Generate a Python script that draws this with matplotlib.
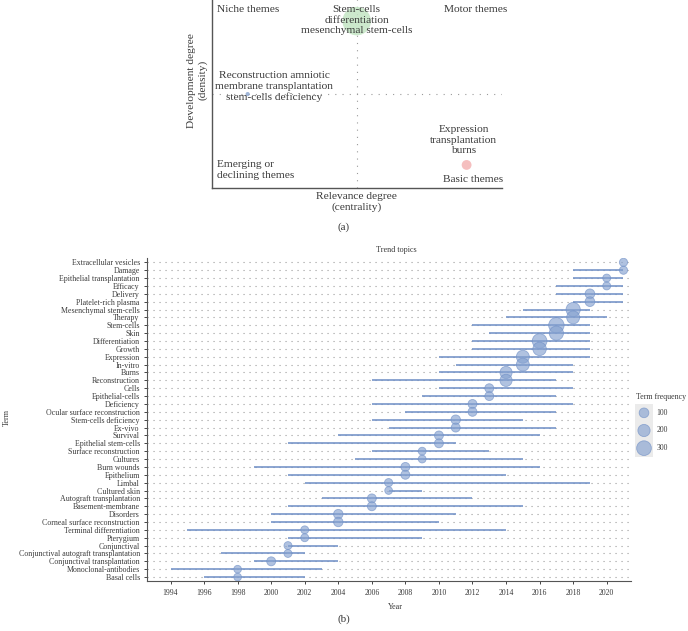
import numpy as np
import matplotlib
matplotlib.use("Agg")
import matplotlib.pyplot as plt

plt.rcParams['font.family'] = ['Liberation Serif', 'DejaVu Serif']

# ---- panel (a): thematic map ----
cluster_labels = ["Stem-cells\ndifferentiation\nmesenchymal stem-cells",
                  "Reconstruction amniotic\nmembrane transplantation\nstem-cells deficiency",
                  "Expression\ntransplantation\nburns"]
centrality = [0.50, 0.124, 0.879]
density = [0.776, 0.436, 0.106]
cluster_size = [420, 9, 50]
cluster_colors = ['#c4e6c4', '#8fa9d2', '#f4b4b4']
label_pos = [(0.50, 0.781), (0.216, 0.470), (0.868, 0.222)]
centrality_mid = 0.5
density_mid = 0.436

# ---- panel (b): trend topics ----
terms = ["Extracellular vesicles", "Damage", "Epithelial transplantation", "Efficacy",
         "Delivery", "Platelet-rich plasma", "Mesenchymal stem-cells", "Therapy",
         "Stem-cells", "Skin", "Differentiation", "Growth", "Expression", "In-vitro",
         "Burns", "Reconstruction", "Cells", "Epithelial-cells", "Deficiency",
         "Ocular surface reconstruction", "Stem-cells deficiency", "Ex-vivo", "Survival",
         "Epithelial stem-cells", "Surface reconstruction", "Cultures", "Burn wounds",
         "Epithelium", "Limbal", "Cultured skin", "Autograft transplantation",
         "Basement-membrane", "Disorders", "Corneal surface reconstruction",
         "Terminal differentiation", "Pterygium", "Conjunctival",
         "Conjunctival autograft transplantation", "Conjunctival transplantation",
         "Monoclonal-antibodies", "Basal cells"]
year_q1 = [2021, 2018, 2018, 2017, 2017, 2018, 2015, 2014, 2012, 2013, 2012, 2012, 2010, 2011,
           2010, 2006, 2010, 2009, 2006, 2008, 2006, 2007, 2004, 2001, 2006, 2005, 1999,
           2001, 2002, 2007, 2003, 2001, 2000, 2000, 1995, 2001, 2001, 1997, 1999, 1994, 1996]
year_med = [2021, 2021, 2020, 2020, 2019, 2019, 2018, 2018, 2017, 2017, 2016, 2016, 2015, 2015,
            2014, 2014, 2013, 2013, 2012, 2012, 2011, 2011, 2010, 2010, 2009, 2009, 2008,
            2008, 2007, 2007, 2006, 2006, 2004, 2004, 2002, 2002, 2001, 2001, 2000, 1998, 1998]
year_q3 = [2021, 2021, 2021, 2021, 2021, 2021, 2019, 2020, 2019, 2019, 2019, 2019, 2019, 2018,
           2018, 2017, 2018, 2017, 2018, 2017, 2015, 2017, 2016, 2011, 2013, 2015, 2016,
           2014, 2019, 2009, 2012, 2015, 2011, 2010, 2014, 2009, 2004, 2002, 2004, 2003, 2002]
term_freq = [40, 40, 30, 30, 100, 100, 280, 230, 330, 280, 300, 250, 230, 230,
             200, 200, 70, 70, 70, 70, 90, 70, 70, 70, 25, 25, 70,
             70, 40, 20, 70, 70, 90, 90, 30, 30, 30, 30, 70, 20, 20]
legend_freq = [100, 200, 300]
year_ticks = list(range(1994, 2021, 2))

W, H = 688, 631
fig = plt.figure(figsize=(W / 100, H / 100), dpi=100)


def fx(px):
    return px / W


def fy(py):
    return 1 - py / H


def msize(f):
    # marker area in points^2 from term frequency
    d_px = 7.2 + 0.025 * np.asarray(f, dtype=float)
    return (d_px * 0.72) ** 2


txt = '#3a3a3a'
pt_face = '#86a2d0'
pt_edge = '#6f8fc6'

# ---------------- panel (a) ----------------
ax1 = fig.add_axes([fx(211.7), fy(187.7), 290 / W, 214.7 / H])
ax1.set_xlim(0, 1)
ax1.set_ylim(0, 1)
ax1.axvline(centrality_mid, color='#9a9a9a', lw=0.8, ls=(0, (1, 5.5)), zorder=1)
ax1.axhline(density_mid, color='#9a9a9a', lw=0.8, ls=(0, (1, 5.5)), zorder=1)
ax1.scatter(centrality, density, s=cluster_size, c=cluster_colors, alpha=0.85,
            edgecolors='none', zorder=2)
for lab, (lx, ly) in zip(cluster_labels, label_pos):
    ax1.text(lx, ly, lab, ha='center', va='center', fontsize=8.2, color=txt, zorder=3)
ax1.text(0.017, 0.832, "Niche themes", ha='left', va='center', fontsize=8.2, color=txt)
ax1.text(0.910, 0.832, "Motor themes", ha='center', va='center', fontsize=8.2, color=txt)
ax1.text(0.017, 0.082, "Emerging or\ndeclining themes", ha='left', va='center',
         fontsize=8.2, color=txt)
ax1.text(0.901, 0.036, "Basic themes", ha='center', va='center', fontsize=8.2, color=txt)
for s in ['top', 'right']:
    ax1.spines[s].set_visible(False)
for s in ['left', 'bottom']:
    ax1.spines[s].set_color('#555555')
    ax1.spines[s].set_linewidth(1.0)
ax1.set_xticks([])
ax1.set_yticks([])
ax1.set_xlabel("Relevance degree\n(centrality)", fontsize=8.2, color=txt, labelpad=3)
ax1.set_ylabel("Development degree\n(density)", fontsize=8.2, color=txt, labelpad=3)
fig.text(fx(344), fy(227), "(a)", ha='center', va='center', fontsize=8, color=txt)

# ---------------- panel (b) ----------------
ax2 = fig.add_axes([fx(146.7), fy(581), 484 / W, (581 - 258.4) / H])
rows = np.arange(1, len(terms) + 1)
ax2.set_xlim(1992.58, 2021.43)
ax2.set_ylim(len(terms) + 0.5, 0.5)
ax2.hlines(rows, 1992.58, 2021.43, color='#9c9c9c', lw=0.8, ls=(0, (1, 4.4)), zorder=1)
ax2.hlines(rows, year_q1, year_q3, color='#6f8fc6', lw=1.25, alpha=0.9, zorder=2)
ax2.scatter(year_med, rows, s=msize(term_freq), color=pt_face, alpha=0.65,
            edgecolors=pt_edge, linewidths=0.6, zorder=3)
ax2.set_yticks(rows)
ax2.set_yticklabels(terms, fontsize=5.7, color=txt)
ax2.set_xticks(year_ticks)
ax2.set_xticklabels([str(y) for y in year_ticks], fontsize=5.6, color=txt)
ax2.tick_params(axis='y', length=2.5, width=0.7, color='#444444', pad=2.5)
ax2.tick_params(axis='x', length=2.5, width=0.7, color='#444444', pad=3)
for s in ['top', 'right']:
    ax2.spines[s].set_visible(False)
for s in ['left', 'bottom']:
    ax2.spines[s].set_color('#555555')
    ax2.spines[s].set_linewidth(0.8)
fig.text(fx(396.7), fy(249.7), "Trend topics", ha='center', va='center', fontsize=5.9, color=txt)
fig.text(fx(395), fy(606.7), "Year", ha='center', va='center', fontsize=5.9, color=txt)
fig.text(fx(7), fy(417), "Term", ha='center', va='center', rotation=90, fontsize=5.9, color=txt)

# legend drawn as a small axes with grey keys
fig.text(fx(636.5), fy(397), "Term frequency", ha='left', va='center', fontsize=5.7, color=txt)
lax = fig.add_axes([fx(635), fy(457), 18 / W, 53 / H])
lax.set_facecolor('#ebebeb')
lax.set_xlim(0, 1)
lax.set_ylim(3, 0)
lax.scatter([0.5] * len(legend_freq), np.arange(len(legend_freq)) + 0.5,
            s=msize(legend_freq), color=pt_face, alpha=0.65,
            edgecolors=pt_edge, linewidths=0.6, clip_on=False)
for i, v in enumerate(legend_freq):
    lax.text(1.2, i + 0.5, str(v), ha='left', va='center', fontsize=5.5, color=txt)
lax.set_xticks([])
lax.set_yticks([])
for s in lax.spines.values():
    s.set_visible(False)

fig.text(fx(344), fy(619), "(b)", ha='center', va='center', fontsize=8, color=txt)

fig.savefig("out.png", dpi=100)
